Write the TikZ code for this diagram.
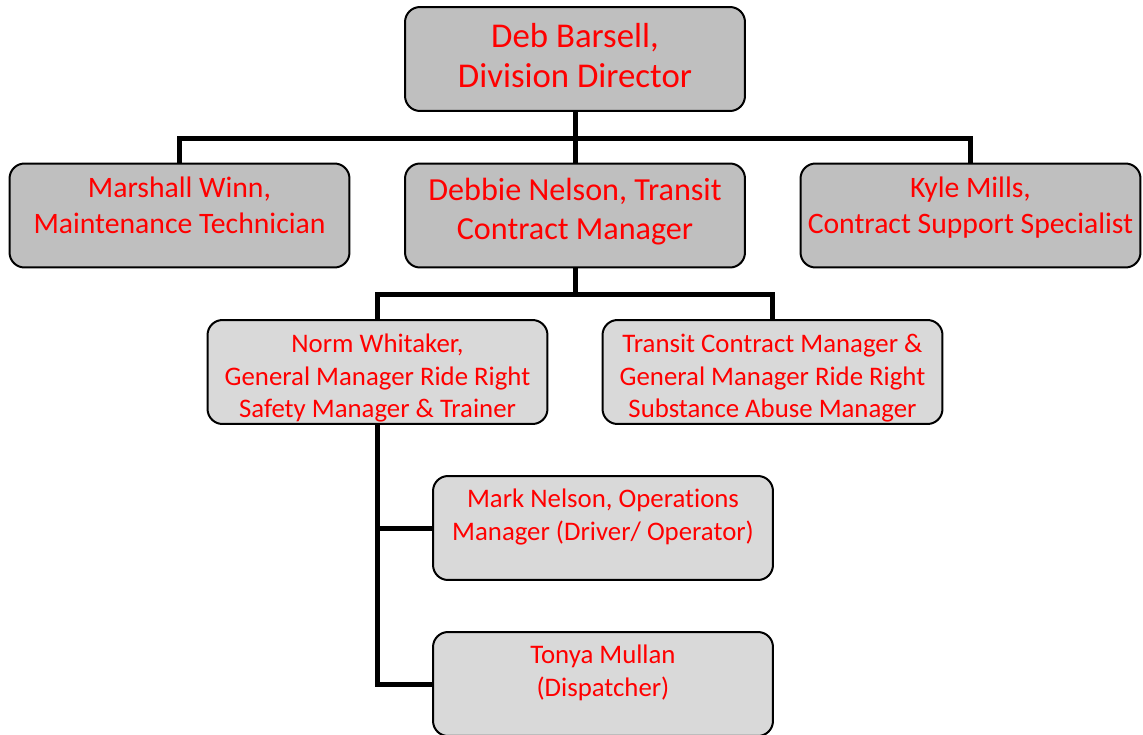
\documentclass[tikz,border=0pt]{standalone}
\usepackage{fontspec}
\setmainfont[Ligatures=NoCommon]{Carlito}
\usetikzlibrary{positioning,calc}
\colorlet{box dark}{black!25}
\colorlet{box light}{black!15}
\tikzstyle{box} = [draw=black,line width=0.04cm,rounded corners=0.3cm,minimum width=6.8cm,minimum height=2.08cm,inner sep=0pt,align=center,text=red,text depth=0pt]
\tikzstyle{top box} = [box,fill=box dark]
\tikzstyle{sub box} = [box,fill=box light,font=\fontsize{15.25}{18.5}\selectfont,text height=1.84cm]
\tikzstyle{leaf box} = [sub box,text height=0.48cm]
\tikzstyle{link} = [line width=0.1cm]

\begin{document}
\begin{tikzpicture}[x=0.02cm,y=-0.02cm]
		\useasboundingbox (0,0) rectangle (1143,734);
		\node[top box,font=\fontsize{19.8}{23.3}\selectfont,text height=1.16cm] (deb) at (575,59) {Deb Barsell,\\Division Director};
		\node[top box,font=\fontsize{16.9}{20.5}\selectfont,text height=0.74cm] (marshall) at (179.5,215.5) {Marshall Winn,\\Maintenance Technician};
		\node[top box,font=\fontsize{18.3}{22}\selectfont,text height=0.96cm] (debbie) at (575,215.5) {Debbie Nelson, Transit\\Contract Manager};
		\node[top box,font=\fontsize{16.9}{20.5}\selectfont,text height=0.74cm] (kyle) at (970.5,215.5) {Kyle Mills,\\Contract Support Specialist};
		\node[sub box] (norm) at (377.5,372) {Norm Whitaker,\\General Manager Ride Right\\Safety Manager \& Trainer};
		\node[sub box] (transit) at (772.5,372) {Transit Contract Manager \&\\General Manager Ride Right\\Substance Abuse Manager};
		\node[leaf box] (mark) at (603,528) {Mark Nelson, Operations\\Manager (Driver/ Operator)};
		\node[leaf box] (tonya) at (603,684) {Tonya Mullan\\(Dispatcher)};
		\coordinate (bus1) at (575,138);
		\coordinate (bus2) at (575,294);
		\draw[link] (deb.south) -- (debbie.north) (bus1) -| (marshall.north) (bus1) -| (kyle.north);
		\draw[link] (debbie.south) -- (bus2) -| (norm.north) (bus2) -| (transit.north);
		\draw[link] (norm.south) |- (mark.west) (norm.south) |- (tonya.west);
	\end{tikzpicture}
\end{document}
